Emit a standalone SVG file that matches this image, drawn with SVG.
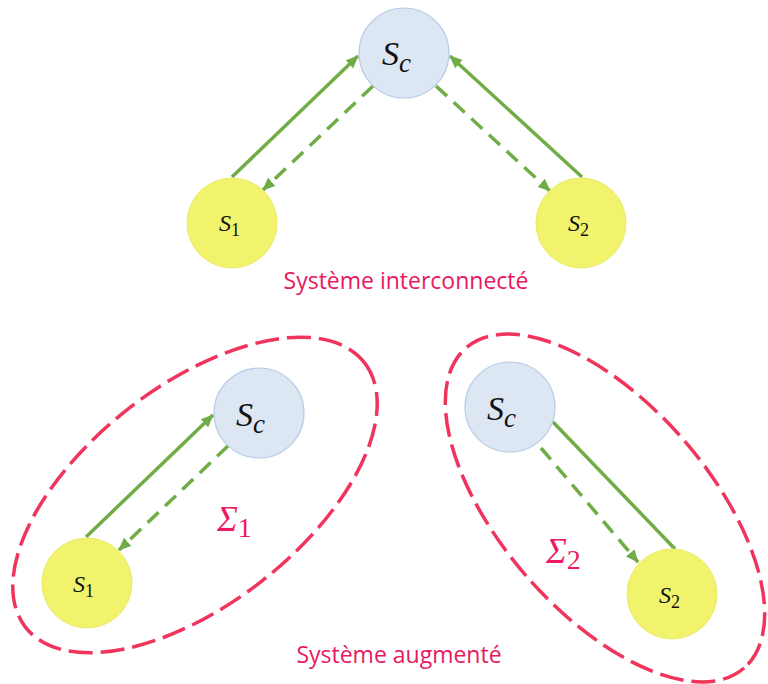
<svg xmlns="http://www.w3.org/2000/svg" width="768" height="684" viewBox="0 0 768 684">
  <style>
    .sc { fill: #DCE7F3; stroke: #B9CDE5; stroke-width: 1.2; }
    .sy { fill: #F1F36D; stroke: #E9EB6A; stroke-width: 1; }
    .math { font-family: "Liberation Serif", "DejaVu Serif", serif; font-style: italic; fill: #111; }
    .sub { font-family: "Liberation Serif", "DejaVu Serif", serif; font-style: normal; }
    .cap { font-family: "Open Sans", "Noto Sans", "Liberation Sans", sans-serif; font-size: 23px; fill: #E8195E; }
    .sigma { font-family: "Liberation Serif", "DejaVu Serif", serif; font-style: italic; fill: #EE1A5F; }
    .solid { stroke: #70AD47; stroke-width: 3.5; fill: none; }
    .dash { stroke: #70AD47; stroke-width: 3.5; fill: none; stroke-dasharray: 15 9; }
    .encl { fill: none; stroke: #F0355D; stroke-width: 3.5; stroke-dasharray: 24 8; }
  </style>
  <defs>
    <marker id="arr" viewBox="0 0 13 11" refX="12" refY="5.5" markerWidth="13" markerHeight="11" markerUnits="userSpaceOnUse" orient="auto">
      <path d="M0,0 L13,5.5 L0,11 z" fill="#70AD47"/>
    </marker>
  </defs>

  <rect width="768" height="684" fill="#FFFFFF"/>

  <g id="enclosures">
    <ellipse id="sigma1-boundary" class="encl" cx="195" cy="495" rx="215" ry="109" transform="rotate(-38 195 495)"/>
    <ellipse id="sigma2-boundary" class="encl" cx="605" cy="508" rx="212" ry="104" transform="rotate(49 605 508)"/>
  </g>

  <g id="connectors">
    <line class="solid" x1="232" y1="177" x2="358" y2="56" marker-end="url(#arr)"/>
    <line class="dash" x1="373" y1="86" x2="263" y2="190" marker-end="url(#arr)"/>
    <line class="solid" x1="582" y1="177" x2="450" y2="56" marker-end="url(#arr)"/>
    <line class="dash" x1="436" y1="86" x2="550" y2="191" marker-end="url(#arr)"/>

    <line class="solid" x1="86" y1="537" x2="213" y2="415" marker-end="url(#arr)"/>
    <line class="dash" x1="228" y1="446" x2="119" y2="550" marker-end="url(#arr)"/>

    <line class="solid" x1="553" y1="422" x2="675" y2="549"/>
    <line class="dash" x1="541" y1="448" x2="638" y2="562" marker-end="url(#arr)"/>
  </g>

  <g id="top-sc">
    <circle class="sc" cx="404" cy="53" r="45"/>
    <text class="math" x="382" y="65" font-size="34">S<tspan font-size="27" dy="7">c</tspan></text>
  </g>
  <g id="top-s1">
    <circle class="sy" cx="232" cy="223" r="45"/>
    <text class="math" x="219" y="231" font-size="24">S<tspan class="sub" font-size="18" dy="5">1</tspan></text>
  </g>
  <g id="top-s2">
    <circle class="sy" cx="581" cy="223" r="45"/>
    <text class="math" x="568" y="231" font-size="24">S<tspan class="sub" font-size="18" dy="5">2</tspan></text>
  </g>
  <text id="caption-top" class="cap" x="406" y="289" text-anchor="middle">Système interconnecté</text>

  <g id="left-sc">
    <circle class="sc" cx="259" cy="413" r="45"/>
    <text class="math" x="236" y="426" font-size="34">S<tspan font-size="27" dy="7">c</tspan></text>
  </g>
  <g id="left-s1">
    <circle class="sy" cx="87" cy="583" r="45"/>
    <text class="math" x="73" y="592" font-size="24">S<tspan class="sub" font-size="18" dy="5">1</tspan></text>
  </g>
  <text id="sigma1" class="sigma" x="217" y="531" font-size="35">Σ<tspan class="sub" font-size="28" dy="6">1</tspan></text>

  <g id="right-sc">
    <circle class="sc" cx="510" cy="407" r="45"/>
    <text class="math" x="487" y="420" font-size="34">S<tspan font-size="27" dy="7">c</tspan></text>
  </g>
  <g id="right-s2">
    <circle class="sy" cx="672" cy="594" r="45"/>
    <text class="math" x="659" y="603" font-size="24">S<tspan class="sub" font-size="18" dy="5">2</tspan></text>
  </g>
  <text id="sigma2" class="sigma" x="546" y="563" font-size="35">Σ<tspan class="sub" font-size="28" dy="6">2</tspan></text>

  <text id="caption-bottom" class="cap" x="399" y="663" text-anchor="middle">Système augmenté</text>
</svg>
